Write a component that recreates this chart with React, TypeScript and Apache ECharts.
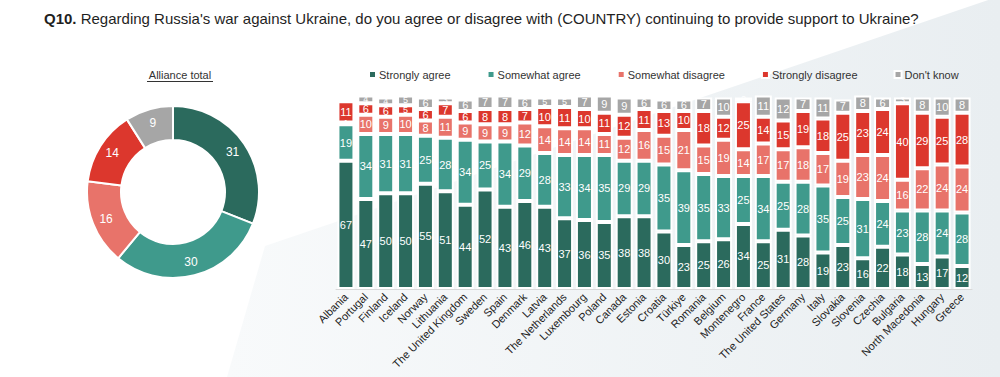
import React, { useEffect, useRef } from "react";
import * as echarts from "echarts";

const countries = [
  "Albania", "Portugal", "Finland", "Iceland", "Norway", "Lithuania", "The United Kingdom",
  "Sweden", "Spain", "Denmark", "Latvia", "The Netherlands", "Luxembourg", "Poland", "Canada",
  "Estonia", "Croatia", "Türkiye", "Romania", "Belgium", "Montenegro", "France",
  "The United States", "Germany", "Italy", "Slovakia", "Slovenia", "Czechia", "Bulgaria",
  "North Macedonia", "Hungary", "Greece",
];
const stronglyAgree = [67, 47, 50, 50, 55, 51, 44, 52, 43, 46, 43, 37, 36, 35, 38, 38, 30, 23, 25, 26, 34, 25, 31, 28, 19, 23, 16, 22, 18, 13, 17, 12];
const somewhatAgree = [19, 34, 31, 31, 25, 28, 34, 25, 34, 29, 28, 33, 34, 35, 29, 29, 35, 39, 35, 33, 25, 34, 25, 28, 35, 25, 31, 24, 23, 28, 24, 28];
const somewhatDisagree = [1, 10, 9, 10, 8, 11, 9, 9, 9, 12, 14, 14, 14, 11, 12, 16, 15, 21, 15, 19, 14, 17, 17, 18, 17, 19, 23, 24, 16, 22, 24, 24];
const stronglyDisagree = [11, 6, 6, 5, 6, 7, 6, 8, 8, 7, 10, 11, 10, 11, 12, 11, 13, 10, 18, 12, 25, 14, 15, 19, 18, 25, 23, 24, 40, 29, 25, 28];
const dontKnow = [2, 4, 4, 5, 6, 3, 6, 7, 7, 6, 5, 5, 7, 9, 9, 6, 6, 6, 7, 10, 2, 11, 12, 7, 11, 7, 8, 6, 3, 8, 10, 8];

const seriesNames = ["Strongly agree", "Somewhat agree", "Somewhat disagree", "Strongly disagree", "Don't know"];
const allianceTotal = [31, 30, 16, 14, 9];
const colors = ["#2b6a5d", "#3f9a8c", "#e8736a", "#dc372d", "#a6a6a6"];

const titleBold = "Q10.";
const titleRest = " Regarding Russia's war against Ukraine, do you agree or disagree with (COUNTRY) continuing to provide support to Ukraine?";
const donutTitle = "Alliance total";

const FONT = "'Liberation Sans', Arial, sans-serif";

export default function App() {
  const ref = useRef<HTMLDivElement>(null);

  useEffect(() => {
    document.body.style.margin = "0";
    if (!ref.current) return;
    const chart = echarts.init(ref.current, undefined, { renderer: "svg" });
    const values = [stronglyAgree, somewhatAgree, somewhatDisagree, stronglyDisagree, dontKnow];

    const barSeries = seriesNames.map((name, i) => ({
      name,
      type: "bar",
      stack: "total",
      barWidth: 17,
      clip: false,
      data: values[i].map((v) =>
        v <= 5 ? { value: v, label: { fontSize: 9 } } : v
      ),
      itemStyle: { color: colors[i], borderColor: "#ffffff", borderWidth: 2 },
      label: {
        show: true,
        position: "inside",
        color: "#ffffff",
        fontSize: 11,
        fontFamily: FONT,
      },
      emphasis: { disabled: true },
      z: 3,
    }));

    const option: any = {
      animation: false,
      textStyle: { fontFamily: FONT },
      legend: {
        data: seriesNames,
        left: 368,
        top: 69,
        padding: 0,
        itemWidth: 7,
        itemHeight: 7,
        itemGap: 36,
        icon: "rect",
        textStyle: { fontSize: 11, color: "#333333", fontFamily: FONT, padding: [0, 0, 0, -2] },
        selectedMode: false,
      },
      grid: { left: 336, right: 28, top: 97.5, bottom: 88, containLabel: false },
      xAxis: {
        type: "category",
        data: countries,
        axisTick: { show: false },
        axisLine: { lineStyle: { color: "#d9d9d9", width: 1 } },
        axisLabel: {
          interval: 0,
          rotate: 45,
          fontSize: 11,
          color: "#222222",
          fontFamily: FONT,
          margin: 6,
        },
      },
      yAxis: {
        type: "value",
        min: 0,
        max: 100,
        show: false,
        splitLine: { show: false },
      },
      series: [
        ...barSeries,
        {
          type: "pie",
          name: donutTitle,
          center: [173, 192],
          radius: [52, 86],
          startAngle: 90,
          clockwise: true,
          avoidLabelOverlap: false,
          itemStyle: { borderColor: "#ffffff", borderWidth: 2 },
          label: {
            show: true,
            position: "inside",
            formatter: "{c}",
            color: "#ffffff",
            fontSize: 12,
            fontFamily: FONT,
          },
          labelLine: { show: false },
          emphasis: { disabled: true },
          data: seriesNames.map((n, i) => ({
            name: n,
            value: allianceTotal[i],
            itemStyle: { color: colors[i] },
          })),
        },
      ],
      graphic: [
        {
          type: "polygon",
          z: -100,
          silent: true,
          shape: { points: [[227, 377], [265, 246], [1000, -4], [1000, 377]] },
          style: {
            fill: new echarts.graphic.LinearGradient(0, 0, 1, 0, [
              { offset: 0, color: "#f8fafb" },
              { offset: 1, color: "#e9eef1" },
            ]),
          },
        },
        {
          type: "text",
          x: 44,
          y: 18,
          z: 100,
          style: {
            text: "{b|" + titleBold + "}" + titleRest,
            fontSize: 15,
            fontFamily: FONT,
            fill: "#1f1f1f",
            verticalAlign: "middle",
            rich: {
              b: { fontWeight: "bold", fontSize: 15, fontFamily: FONT, fill: "#1f1f1f" },
            },
          },
        },
        {
          type: "text",
          x: 180,
          y: 75,
          z: 100,
          style: {
            text: donutTitle,
            fontSize: 11,
            fontFamily: FONT,
            fill: "#333333",
            align: "center",
            verticalAlign: "middle",
          },
        },
        {
          type: "line",
          z: 100,
          shape: { x1: 147, y1: 81.5, x2: 213, y2: 81.5 },
          style: { stroke: "#333333", lineWidth: 1 },
        },
      ],
    };
    chart.setOption(option);
    return () => chart.dispose();
  }, []);

  return <div ref={ref} style={{ width: 1000, height: 377 }} />;
}
